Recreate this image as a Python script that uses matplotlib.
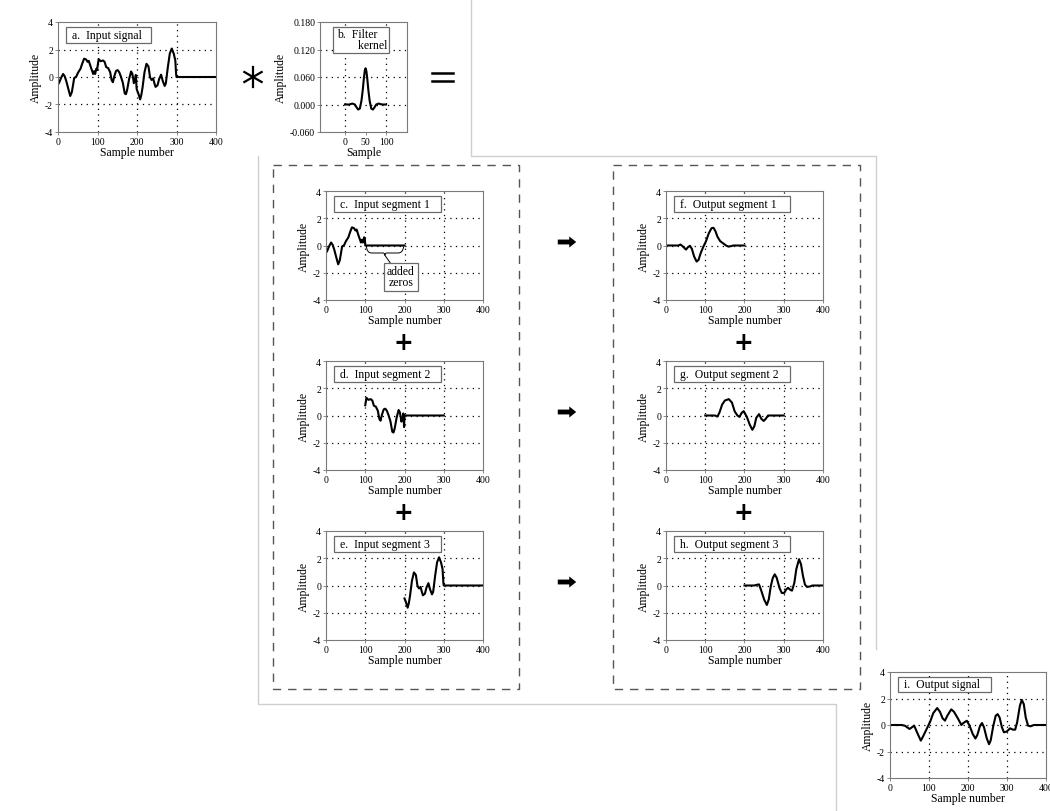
import matplotlib.pyplot as plt
from matplotlib.patches import Rectangle, FancyArrowPatch, PathPatch
from matplotlib.lines import Line2D
from matplotlib.path import Path

# input signal, samples 0..299 (segments are cut out of this)
input_x = [0, 3, 8, 13, 17, 21, 26, 31, 35, 38, 41, 46, 51, 57, 61, 66, 71, 75, 78, 83,
           87, 89, 91.5, 94, 97, 99,
           100, 103, 108, 114, 118, 122, 127, 132, 136, 139, 143, 147, 151, 155, 159,
           164, 169, 172, 175, 180, 185, 188, 190, 192, 195, 197, 199,
           200, 204, 208, 211, 214, 219, 224, 229, 233, 237, 241, 244, 247, 252, 256,
           261, 265, 270, 273, 278, 283, 288, 293, 297, 299]
input_y = [-0.55, -0.4, -0.05, 0.22, 0.05, -0.3, -0.85, -1.38, -1.1, -0.6, -0.07, 0.02,
           0.33, 0.6, 0.95, 1.33, 1.28, 1.1, 1.17, 0.72,
           0.4, 0.22, 0.42, 0.22, 0.6, 0.5,
           0.75, 1.3, 1.15, 1.2, 1.1, 0.72, 0.65, 0.35, -0.25, -0.38, 0.1, 0.45, 0.5,
           0.35, 0.05, -0.4, -1.2, -1.25, -0.95, -0.15, 0.4, 0.25, -0.05, -0.45, -0.2,
           0.15, -0.85,
           -0.95, -1.25, -1.63, -1.3, -0.77, 0.35, 0.96, 0.77, -0.02, -0.22, -0.1,
           -0.45, -0.72, -0.6, -0.15, 0.17, -0.27, -0.65, -0.47, 0.7, 1.7, 2.07, 1.7,
           1.2, 0.22]

# filter kernel
kernel_x = [0, 10, 18, 24, 28, 32, 36, 40, 43, 46, 48, 50, 52, 54, 57, 60, 64, 68,
            72, 76, 82, 90, 100]
kernel_y = [0, 0.0, 0.002, 0.0, -0.006, -0.011, -0.009, 0.008, 0.03, 0.058, 0.073,
            0.079, 0.073, 0.058, 0.03, 0.008, -0.009, -0.011, -0.006, 0.0, 0.002,
            0.0, 0]

# output segments
out1_x = [0, 31, 37, 44, 51, 56, 61, 66, 71.5, 78, 83, 88.5, 95, 102, 109, 116, 121,
          126, 131, 138, 146, 153, 159, 165, 172, 200]
out1_y = [0, 0, 0.07, -0.1, -0.3, -0.12, -0.02, -0.25, -0.8, -1.18, -1.05, -0.55,
          -0.1, 0.32, 0.9, 1.27, 1.3, 1.05, 0.65, 0.32, 0.15, 0, -0.08, -0.05, 0, 0]
out2_x = [100, 125, 131, 136, 143, 150, 160, 168, 175, 182, 187, 193, 198, 206, 213,
          220, 225, 230, 237, 243, 249, 254, 260, 300]
out2_y = [0, 0, -0.08, 0.2, 0.8, 1.1, 1.2, 0.95, 0.3, 0, -0.1, 0.2, 0.32, -0.1, -0.65,
          -1.05, -0.8, -0.17, 0.1, -0.25, -0.4, -0.25, 0, 0]
out3_x = [200, 225, 231, 237, 243, 250, 257, 262, 267, 272, 277, 282, 289, 295, 301,
          306, 311, 316, 321, 327, 332, 339, 344, 349, 354, 359, 366, 373, 400]
out3_y = [0, 0, 0.05, 0.08, -0.4, -1.03, -1.43, -1.0, -0.05, 0.55, 0.82, 0.57, -0.17,
          -0.55, -0.55, -0.3, -0.17, -0.3, -0.38, 0.2, 1.2, 1.93, 1.55, 0.7, 0.07,
          -0.1, -0.08, 0, 0]

# output signal
output_x = [0, 30, 38, 50, 55, 62, 70, 79, 85, 94, 103, 111, 121, 128, 135, 141, 147,
            157, 164, 174, 183, 188, 197, 204, 212, 219, 224, 231, 236, 241, 248, 254,
            258, 265, 271, 276, 281, 287, 292, 299, 308, 315, 321, 326, 333, 338, 343,
            348, 354, 360, 369, 400]
output_y = [0, 0, -0.05, -0.3, -0.2, -0.05, -0.6, -1.18, -0.85, -0.3, 0.25, 0.9, 1.28,
            1.0, 0.5, 0.33, 0.7, 1.18, 1.0, 0.5, 0, 0.15, 0.32, -0.05, -0.67, -1.02,
            -0.75, -0.05, 0.15, -0.17, -1.0, -1.45, -1.18, -0.05, 0.7, 0.82, 0.57,
            -0.17, -0.55, -0.5, -0.25, -0.35, -0.35, 0.2, 1.45, 1.9, 1.58, 0.57, -0.05,
            -0.1, 0, 0]

sample_ticks = [0, 100, 200, 300, 400]
amp_ticks = [-4, -2, 0, 2, 4]
kernel_xticks = [0, 50, 100]
kernel_yticks = [-0.06, 0.0, 0.06, 0.12, 0.18]
kernel_ylabels = ['-0.060', '0.000', '0.060', '0.120', '0.180']

plt.rcParams['font.family'] = ['Liberation Serif', 'DejaVu Serif']
plt.rcParams['axes.unicode_minus'] = False
plt.rcParams['axes.linewidth'] = 0.8
plt.rcParams['axes.edgecolor'] = '#7a7a7a'

W, H = 1050, 812
fig = plt.figure(figsize=(W / 100, H / 100), dpi=100)


def fx(x):
    return x / W


def fy(y):
    return 1 - y / H


def axes_px(l, t, r, b):
    return fig.add_axes([fx(l), fy(b), fx(r - l), (b - t) / H])


def segment(lo, hi, pad_to):
    xs = [x for x in input_x if lo <= x < hi]
    ys = [y for x, y in zip(input_x, input_y) if lo <= x < hi]
    return xs + [hi, pad_to], ys + [0, 0]


def style(ax, xticks, yticks, xgrid, ygrid, xlabel):
    ax.set_xticks(xticks)
    ax.set_yticks(yticks)
    ax.tick_params(labelsize=7, length=2, width=0.6, pad=1.5, color='#7a7a7a')
    for v in xgrid:
        ax.axvline(v, color='k', lw=0.9, ls=(0, (1, 3.5)), zorder=1)
    for v in ygrid:
        ax.axhline(v, color='k', lw=0.9, ls=(0, (1, 3.5)), zorder=1)
    ax.set_xlabel(xlabel, fontsize=8.5, labelpad=0)
    ax.set_ylabel('Amplitude', fontsize=8.5, labelpad=2)


def label_box(ax, text, right, bottom=0.81, top=0.955):
    ax.add_patch(Rectangle((0.05, bottom), right - 0.05, top - bottom,
                           transform=ax.transAxes, fc='white', ec='#6a6a6a',
                           lw=0.9, zorder=3))
    ax.text(0.09, (bottom + top) / 2, text, transform=ax.transAxes,
            fontsize=8.5, va='center', ha='left', zorder=4)


def signal_panel(box, xs, ys, text, right, lw=1.5):
    ax = axes_px(*box)
    ax.plot(xs, ys, color='k', lw=lw, zorder=2, solid_joinstyle='round')
    ax.set_xlim(0, 400)
    ax.set_ylim(-4, 4)
    style(ax, sample_ticks, amp_ticks, [100, 200, 300], [-2, 0, 2], 'Sample number')
    label_box(ax, text, right)
    return ax


# a. input signal
a_x = input_x + [300, 400]
a_y = input_y + [0, 0]
signal_panel((58, 23, 216, 133), a_x, a_y, 'a.  Input signal', 0.59)

# b. filter kernel
axb = axes_px(320, 23, 407, 133)
axb.plot(kernel_x, kernel_y, color='k', lw=1.5, zorder=2)
axb.set_xlim(-61, 151)
axb.set_ylim(-0.06, 0.18)
style(axb, kernel_xticks, kernel_yticks, [0, 100], [0.0, 0.06, 0.12], 'Sample')
axb.set_yticklabels(kernel_ylabels)
axb.add_patch(Rectangle((0.15, 0.72), 0.645, 0.235, transform=axb.transAxes,
                        fc='white', ec='#6a6a6a', lw=0.9, zorder=3))
axb.text(0.2, 0.84, 'b.  Filter\n       kernel', transform=axb.transAxes, fontsize=8.5,
         va='center', ha='left', linespacing=0.85, zorder=4)

# c, d, e input segments
s1x, s1y = segment(0, 100, 200)
s2x, s2y = segment(100, 200, 300)
s3x, s3y = segment(200, 300, 400)
axc = signal_panel((326, 192, 483, 301), s1x, s1y, 'c.  Input segment 1', 0.73)
signal_panel((326, 362, 483, 471), s2x, s2y, 'd.  Input segment 2', 0.73)
signal_panel((326, 532, 483, 641), s3x, s3y, 'e.  Input segment 3', 0.73)

# brace under the padded zeros
brace = Path([(103, -0.05), (104, -0.55), (116, -0.55),
              (145, -0.55), (150, -0.55), (150, -0.72),
              (150, -0.55), (155, -0.55),
              (184, -0.55), (196, -0.55), (198, -0.05)],
             [Path.MOVETO, Path.CURVE3, Path.CURVE3,
              Path.LINETO, Path.CURVE3, Path.CURVE3,
              Path.CURVE3, Path.CURVE3,
              Path.LINETO, Path.CURVE3, Path.CURVE3])
axc.add_patch(PathPatch(brace, fc='none', ec='k', lw=0.7, zorder=4))
axc.plot([150, 168], [-0.72, -1.45], color='k', lw=0.7, zorder=4)
axc.text(191, -2.28, 'added\nzeros', fontsize=8.5, ha='center', va='center',
         linespacing=0.8, zorder=5,
         bbox=dict(boxstyle='square,pad=0.25', fc='white', ec='#6a6a6a', lw=0.9))

# f, g, h output segments
signal_panel((666, 192, 823, 301), out1_x, out1_y, 'f.  Output segment 1', 0.79)
signal_panel((666, 362, 823, 471), out2_x, out2_y, 'g.  Output segment 2', 0.79)
signal_panel((666, 532, 823, 641), out3_x, out3_y, 'h.  Output segment 3', 0.79)

# i. output signal
axi = signal_panel((890, 673, 1046, 779), output_x, output_y, 'i.  Output signal', 0.65)

# figure decorations in pixel space
def fig_line(xs, ys, **kw):
    fig.add_artist(Line2D([fx(x) for x in xs], [fy(y) for y in ys],
                          transform=fig.transFigure, **kw))


gray = dict(color='#cfcfcf', lw=1.0)
fig_line([471, 471, 876, 876], [0, 157, 157, 650], **gray)
fig_line([258, 258, 836, 836], [157, 705, 705, 812], **gray)

dash = dict(color='#555555', lw=1.0, ls=(0, (6, 5)))
for l, r in ((273, 519), (613, 860)):
    fig_line([l, r, r, l, l], [166, 166, 690, 690, 166], **dash)

# convolution star and equals sign
cx, cy, rr = 253, 78, 10
for dx, dy in ((0, 1), (0.866, 0.5), (0.866, -0.5)):
    fig_line([cx - rr * dx, cx + rr * dx], [cy - rr * dy, cy + rr * dy],
             color='k', lw=1.6)
fig_line([432, 453], [73.5, 73.5], color='k', lw=1.8)
fig_line([432, 453], [82, 82], color='k', lw=1.8)

# plus signs
for x, y in ((403, 343), (743, 343), (403, 513), (743, 513)):
    fig.text(fx(x), fy(y), '+', fontsize=17, ha='center', va='center',
             family='DejaVu Sans', weight='bold')

# arrows from input segments to output segments
for y in (243, 413, 583):
    fig.add_artist(FancyArrowPatch((fx(555), fy(y)), (fx(579), fy(y)),
                                   transform=fig.transFigure,
                                   arrowstyle='simple,head_length=5,head_width=8,tail_width=3.5',
                                   mutation_scale=1, color='k', lw=0))

fig.savefig('out.png', dpi=100)
